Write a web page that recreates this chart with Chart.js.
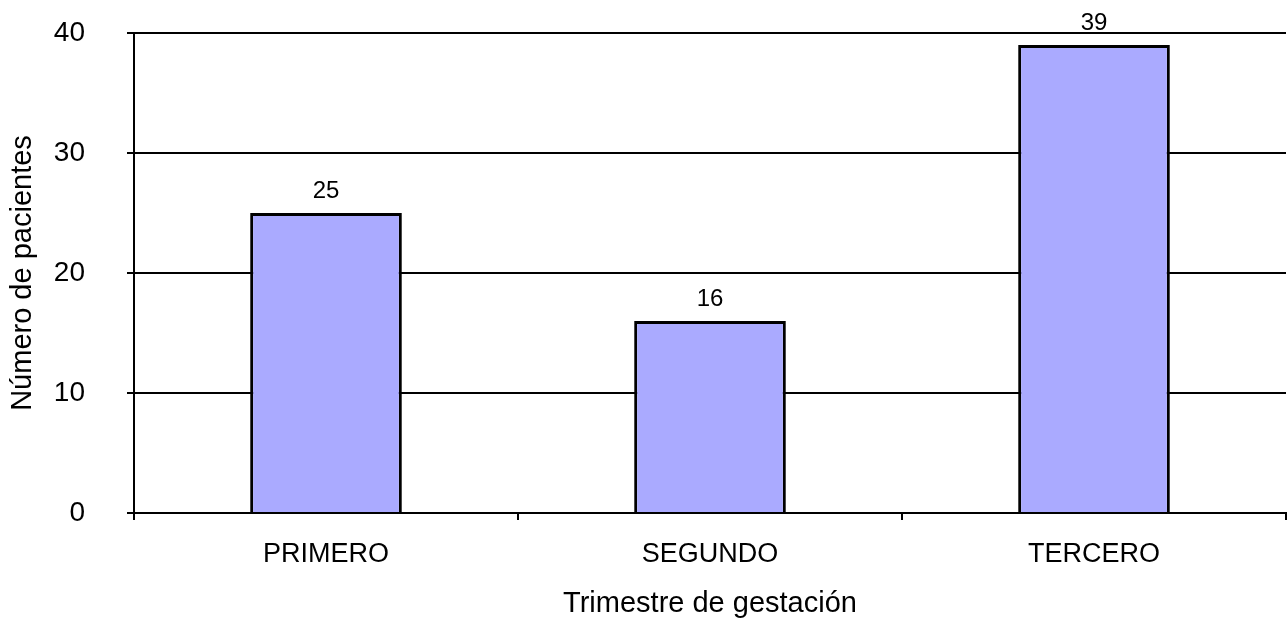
<!DOCTYPE html>
<html>
<head>
<meta charset="utf-8">
<script src="https://cdn.jsdelivr.net/npm/chart.js@4.4.1/dist/chart.umd.min.js"></script>
<style>
  html, body { margin: 0; padding: 0; background: #fff; }
  #wrap { width: 1287px; height: 619px; position: relative; }
</style>
</head>
<body>
<div id="wrap"><canvas id="myChart"></canvas></div>
<script>
const trimestres = ['PRIMERO', 'SEGUNDO', 'TERCERO']
const pacientes = [25, 16, 39]
const ejeYTicks = [0, 10, 20, 30, 40]

const fuente = "'Liberation Sans', Helvetica, Arial, sans-serif"

// escribe el número encima de cada barra
const etiquetas = {
    id: 'etiquetas',
    afterDatasetsDraw(chart) {
        const ctx = chart.ctx
        const meta = chart.getDatasetMeta(0)
        ctx.save()
        ctx.font = `24px ${fuente}`
        ctx.fillStyle = '#000'
        ctx.textAlign = 'center'
        ctx.textBaseline = 'alphabetic'
        meta.data.forEach((bar, i) => {
            ctx.fillText(String(pacientes[i]), bar.x, bar.y - 15)
        })
        ctx.restore()
    }
}

const data = {
    labels: trimestres,
    datasets: [{
        label: 'Pacientes',
        data: pacientes,
        backgroundColor: '#aaaaff',
        borderColor: '#000',
        borderWidth: 3,
        barPercentage: 0.395,
        categoryPercentage: 1
    }]
}

const config = {
    type: 'bar',
    data: data,
    options: {
        responsive: true,
        maintainAspectRatio: false,
        animation: false,
        layout: { padding: { top: 33, right: 1, left: 0, bottom: 0 } },
        plugins: {
            legend: { display: false },
            tooltip: { enabled: false }
        },
        scales: {
            x: {
                offset: true,
                border: { color: '#000', width: 2 },
                grid: {
                    offset: true,
                    lineWidth: 2,
                    // solo la última línea cierra el marco por la derecha
                    color: ctx => ctx.index === trimestres.length ? '#000' : 'rgba(0,0,0,0)',
                    tickColor: '#000',
                    tickLength: 7
                },
                ticks: {
                    color: '#000',
                    padding: 18,
                    font: { family: fuente, size: 27 }
                },
                title: {
                    display: true,
                    text: 'Trimestre de gestación',
                    color: '#000',
                    padding: { top: 0, bottom: -2 },
                    font: { family: fuente, size: 29 }
                },
                afterFit: s => { s.height = 106 }
            },
            y: {
                min: 0,
                max: 40,
                border: { color: '#000', width: 2 },
                grid: {
                    color: '#000',
                    lineWidth: 2,
                    tickColor: '#000',
                    tickLength: 7
                },
                afterBuildTicks: s => { s.ticks = ejeYTicks.map(v => ({ value: v })) },
                ticks: {
                    color: '#000',
                    padding: 42,
                    font: { family: fuente, size: 28 }
                },
                title: {
                    display: true,
                    text: 'Número de pacientes',
                    color: '#000',
                    padding: { top: 6, bottom: 0 },
                    font: { family: fuente, size: 29 }
                },
                afterFit: s => {
                    s.width = 134
                    // el padding de las etiquetas no debe empujar el área hacia abajo
                    s.paddingTop = 0
                    s.paddingBottom = 0
                }
            }
        }
    },
    plugins: [etiquetas]
}

const myChart = new Chart(document.getElementById('myChart'), config)
</script>
</body>
</html>
